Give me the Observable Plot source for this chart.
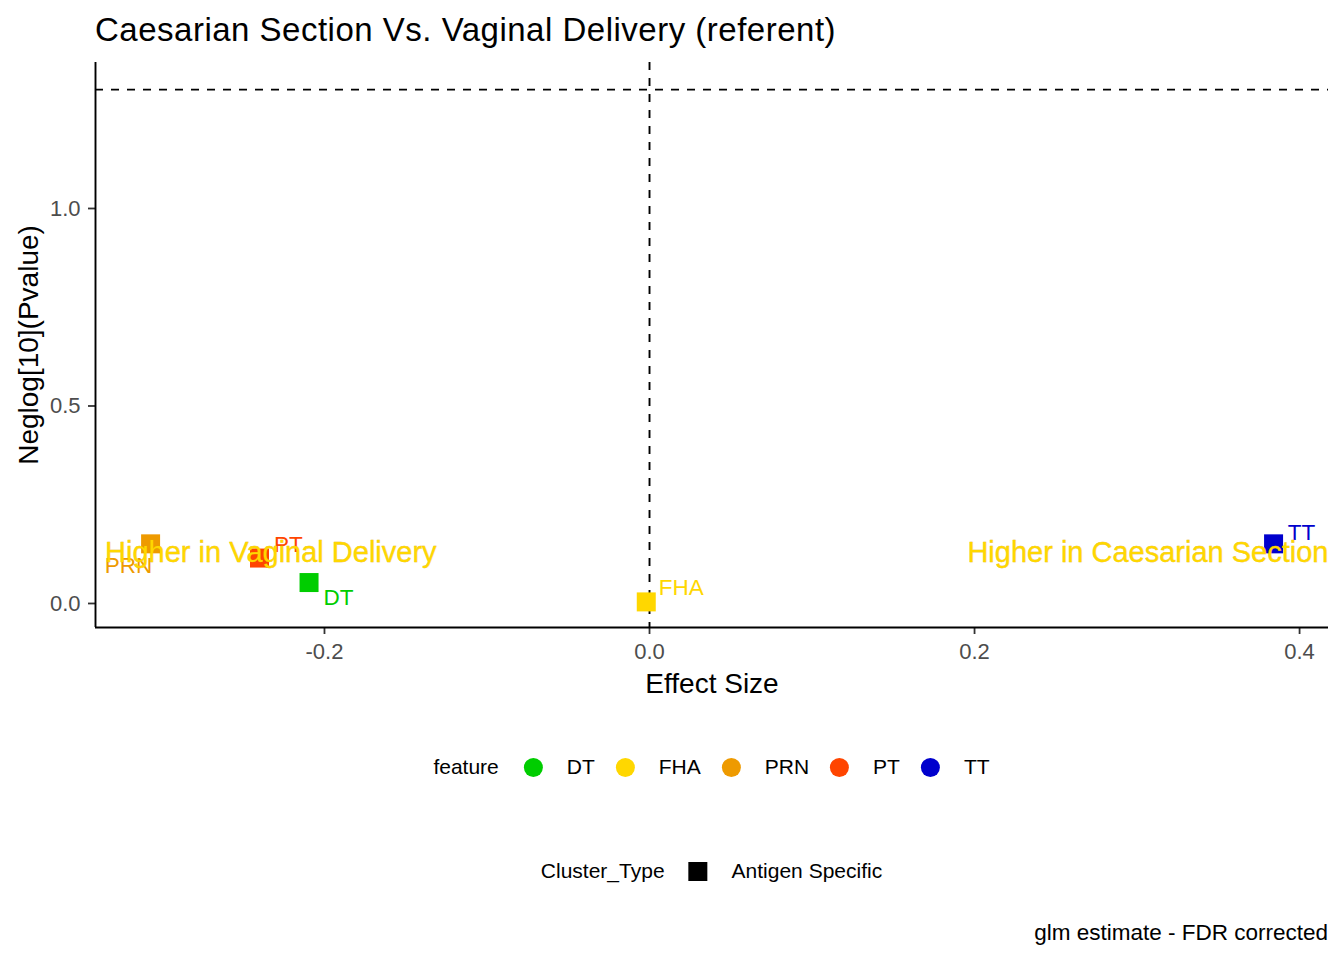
<!DOCTYPE html>
<html>
<head>
<meta charset="utf-8">
<script src="https://cdn.jsdelivr.net/npm/d3@7"></script>
<script src="https://cdn.jsdelivr.net/npm/@observablehq/plot@0.6"></script>
<style>
  html, body { margin: 0; padding: 0; background: #fff; }
  body { width: 1344px; height: 960px; position: relative; overflow: hidden;
         font-family: "Liberation Sans", Arial, sans-serif; color: #000; }
  #title { position: absolute; left: 95px; top: 13px; font-size: 33px; line-height: 33px;
           letter-spacing: 0.5px; white-space: nowrap; }
  #chart { position: absolute; left: 0; top: 52px; }
  .legend { position: absolute; left: 711.5px; transform: translateX(-50%);
            display: flex; align-items: center; font-size: 21px; white-space: nowrap; height: 30px; }
  .legend .ttl { margin-right: 25px; }
  .legend .key { width: 19px; height: 19px; margin-right: 24px; flex: none; }
  .legend .lab { margin-right: 21px; }
  .legend .lab:last-child { margin-right: 0; }
  #caption { position: absolute; right: 16px; top: 922px; font-size: 22.5px; line-height: 22.5px; white-space: nowrap; }
  g[aria-label="x-axis tick label"], g[aria-label="y-axis tick label"] { fill: #4d4d4d; }
</style>
</head>
<body>
<div id="title"></div>
<div id="chart"></div>
<div id="legendFeature" class="legend" style="top:752px"></div>
<div id="legendCluster" class="legend" style="top:856px"></div>
<div id="caption"></div>
<script>
// ---- data ----
const titleText = "Caesarian Section Vs. Vaginal Delivery (referent)";
const captionText = "glm estimate - FDR corrected";
const xLabel = "Effect Size";
const yLabel = "Neglog[10](Pvalue)";
const features = ["DT", "FHA", "PRN", "PT", "TT"];
const effectSize = [-0.2095, -0.002, -0.307, -0.240, 0.384];
const negLog10P = [0.053, 0.004, 0.151, 0.115, 0.151];
const featureColors = ["#00CD00", "#FFD700", "#EE9A00", "#FF4500", "#0000CD"];
const clusterTypes = ["Antigen Specific"];
const xTicks = [-0.2, 0.0, 0.2, 0.4];
const yTicks = [0.0, 0.5, 1.0];
const pThreshold = -Math.log10(0.05);
const annotationTexts = ["Higher in Vaginal Delivery", "Higher in Caesarian Section"];
const annotationX = [-0.335, 0.4178];
const annotationY = [0.128, 0.128];

// ---- layout / style config ----
const xDomain = [-0.3409, 0.4178];
const yDomain = [-0.0608, 1.3696];
const labelOffsets = { DT: [29.5, 15], FHA: [35, -14], PRN: [-22, 22], PT: [29, -13], TT: [28, -11] };
const font = "Liberation Sans, Arial, sans-serif";

const rows = features.map((f, i) => ({ feature: f, x: effectSize[i], y: negLog10P[i], cluster: clusterTypes[0] }));

document.getElementById("title").textContent = titleText;
document.getElementById("caption").textContent = captionText;

const labelMarks = rows.map(r => Plot.text([r], {
  x: "x", y: "y", text: "feature", fill: featureColors[features.indexOf(r.feature)],
  fontSize: 22.5, textAnchor: "middle", lineAnchor: "middle",
  dx: labelOffsets[r.feature][0], dy: labelOffsets[r.feature][1]
}));

const annRows = annotationTexts.map((t, i) => ({ t, x: annotationX[i], y: annotationY[i], anchor: i === 0 ? "start" : "end" }));

const plot = Plot.plot({
  width: 1344,
  height: 650,
  marginLeft: 95,
  marginRight: 16,
  marginTop: 10,
  marginBottom: 75,
  style: { fontFamily: font, fontSize: "22px", background: "transparent", overflow: "visible" },
  x: { domain: xDomain },
  y: { domain: yDomain },
  color: { domain: features, range: featureColors },
  marks: [
    Plot.ruleX([0], { stroke: "#000", strokeWidth: 1.9, strokeDasharray: "8,8" }),
    Plot.ruleY([pThreshold], { stroke: "#000", strokeWidth: 1.9, strokeDasharray: "8,8" }),
    Plot.axisX({ ticks: xTicks, tickFormat: d => d.toFixed(1), tickSize: 7, tickPadding: 9, stroke: "#333", strokeWidth: 1.8, fontSize: 22, label: null }),
    Plot.axisY({ ticks: yTicks, tickFormat: d => d.toFixed(1), tickSize: 7, tickPadding: 8, stroke: "#333", strokeWidth: 1.8, fontSize: 22, label: null }),
    Plot.ruleY([yDomain[0]], { stroke: "#000", strokeWidth: 1.9 }),
    Plot.ruleX([xDomain[0]], { stroke: "#000", strokeWidth: 1.9 }),
    Plot.dot(rows, { x: "x", y: "y", fill: "feature", symbol: "square", r: 19 / Math.sqrt(Math.PI), stroke: null }),
    ...labelMarks,
    Plot.text(annRows.filter(d => d.anchor === "start"), { x: "x", y: "y", text: "t", textAnchor: "start", lineAnchor: "middle",
      fontSize: 29, fill: "#FFD700", stroke: "#E3AE00", strokeWidth: 0.35 }),
    Plot.text(annRows.filter(d => d.anchor === "end"), { x: "x", y: "y", text: "t", textAnchor: "end", lineAnchor: "middle",
      fontSize: 29, fill: "#FFD700", stroke: "#E3AE00", strokeWidth: 0.35 }),
    Plot.text([xLabel], { frameAnchor: "bottom", lineAnchor: "bottom", textAnchor: "middle", dy: 65.3, fontSize: 28, fill: "#000" }),
    Plot.text([yLabel], { frameAnchor: "left", lineAnchor: "bottom", textAnchor: "middle", rotate: -90, dx: -57.5, fontSize: 28, fill: "#000" })
  ]
});
document.getElementById("chart").appendChild(plot);

// ---- legends built from the same arrays ----
const lf = document.getElementById("legendFeature");
const t1 = document.createElement("span"); t1.className = "ttl"; t1.textContent = "feature"; lf.appendChild(t1);
features.forEach((f, i) => {
  const k = document.createElement("span"); k.className = "key";
  k.style.background = featureColors[i]; k.style.borderRadius = "50%";
  lf.appendChild(k);
  const l = document.createElement("span"); l.className = "lab"; l.textContent = f; lf.appendChild(l);
});
const lc = document.getElementById("legendCluster");
const t2 = document.createElement("span"); t2.className = "ttl"; t2.textContent = "Cluster_Type"; t2.style.marginRight = "24px"; lc.appendChild(t2);
clusterTypes.forEach(c => {
  const k = document.createElement("span"); k.className = "key"; k.style.background = "#000"; lc.appendChild(k);
  const l = document.createElement("span"); l.className = "lab"; l.textContent = c; lc.appendChild(l);
});
</script>
</body>
</html>
